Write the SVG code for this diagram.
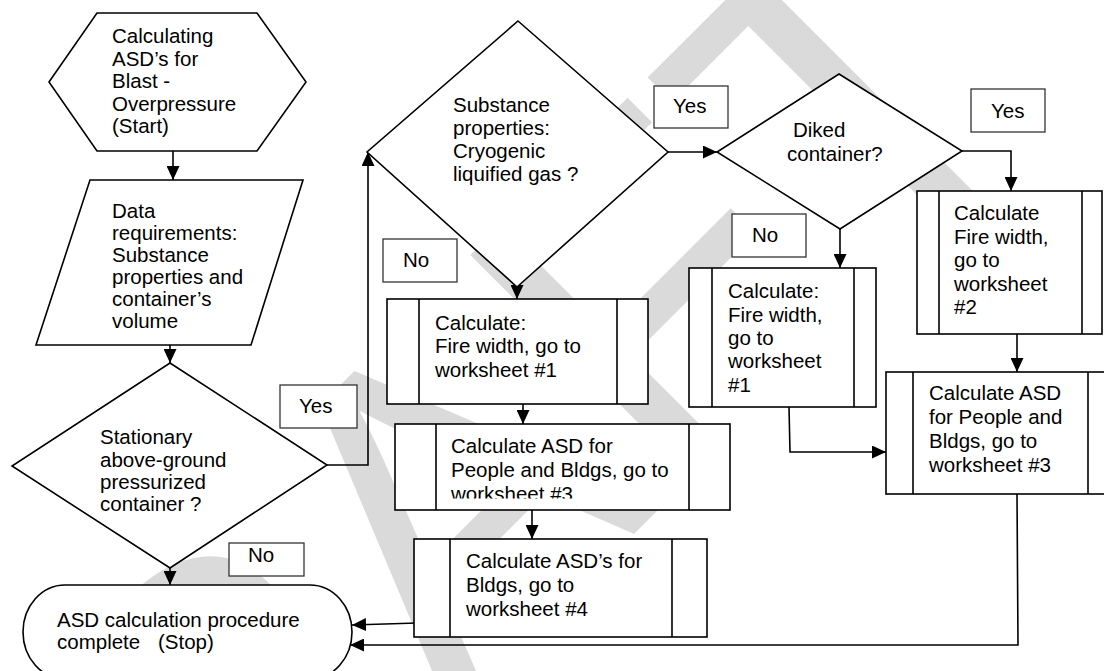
<svg xmlns="http://www.w3.org/2000/svg" width="1104" height="671" viewBox="0 0 1104 671">
<style>
.shape{fill:#fff;stroke:#000;stroke-width:1.6}
.lbl{fill:#fff;stroke:#333;stroke-width:1.3}
.conn{fill:none;stroke:#000;stroke-width:1.6}
text{font-family:"Liberation Sans",Arial,sans-serif;font-size:20.5px;fill:#000}
.wm{font-family:"Liberation Sans",Arial,sans-serif;font-size:455px;fill:#dadada}
</style>
<defs>
<marker id="ah" markerUnits="userSpaceOnUse" markerWidth="14" markerHeight="13" refX="14" refY="6.5" orient="auto">
<path d="M0,0 L14,6.5 L0,13 z" fill="#000"/>
</marker>
<clipPath id="clipM2"><rect x="436" y="424" width="253" height="74.5"/></clipPath>
</defs>
<rect width="1104" height="671" fill="#fff"/>
<text class="wm" transform="translate(-14,1182) rotate(-45)">DRAFT</text>

<g id="connectors">
<path class="conn" d="M173,151 V180" marker-end="url(#ah)"/>
<path class="conn" d="M170,345 V363" marker-end="url(#ah)"/>
<path class="conn" d="M327,465 H368 V152" marker-end="url(#ah)"/>
<path class="conn" d="M170,568 V585" marker-end="url(#ah)"/>
<path class="conn" d="M517,287 V299" marker-end="url(#ah)"/>
<path class="conn" d="M668,152 H717" marker-end="url(#ah)"/>
<path class="conn" d="M962,151 H1011 V191" marker-end="url(#ah)"/>
<path class="conn" d="M840,229 V268" marker-end="url(#ah)"/>
<path class="conn" d="M523,404 V424" marker-end="url(#ah)"/>
<path class="conn" d="M532,510 V539" marker-end="url(#ah)"/>
<path class="conn" d="M417,623 L352,625" marker-end="url(#ah)"/>
<path class="conn" d="M789,407 L790,452 H886" marker-end="url(#ah)"/>
<path class="conn" d="M1017,334 V372" marker-end="url(#ah)"/>
<path class="conn" d="M1017,494 L1018,645 H350" marker-end="url(#ah)"/>
</g>

<g id="start">
<polygon class="shape" points="49,82 97,13 257,13 306,82 257,151 97,151"/>
<text x="112" y="43">Calculating</text>
<text x="112" y="65.5">ASD’s for</text>
<text x="112" y="88">Blast -</text>
<text x="112" y="110.5">Overpressure</text>
<text x="112" y="133">(Start)</text>
</g>

<g id="data">
<polygon class="shape" points="90,180 303,180 251,345 36,345"/>
<text x="112" y="218">Data</text>
<text x="112" y="240">requirements:</text>
<text x="112" y="262">Substance</text>
<text x="112" y="284">properties and</text>
<text x="112" y="306">container’s</text>
<text x="112" y="328">volume</text>
</g>

<g id="stationary">
<polygon class="shape" points="170,363 327,465 170,568 12,466"/>
<text x="100" y="444">Stationary</text>
<text x="100" y="466.5">above-ground</text>
<text x="100" y="489">pressurized</text>
<text x="100" y="511">container ?</text>
</g>

<g id="stop">
<rect class="shape" x="23" y="585" width="329" height="94" rx="42" ry="47"/>
<text x="57" y="627">ASD calculation procedure</text>
<text x="57" y="649">complete<tspan x="158">(Stop)</tspan></text>
</g>

<g id="cryogenic">
<polygon class="shape" points="518,21 668,152 517,287 367,152"/>
<text x="453" y="112">Substance</text>
<text x="453" y="135">properties:</text>
<text x="453" y="158">Cryogenic</text>
<text x="453" y="181">liquified gas ?</text>
</g>

<g id="diked">
<polygon class="shape" points="839,74 962,151 840,229 717,152"/>
<text x="793" y="137">Diked</text>
<text x="787" y="161">container?</text>
</g>

<g id="fire1-mid">
<rect class="shape" x="387" y="299" width="261" height="105"/>
<line class="conn" x1="419" y1="299" x2="419" y2="404"/>
<line class="conn" x1="617" y1="299" x2="617" y2="404"/>
<text x="435" y="330">Calculate:</text>
<text x="435" y="353">Fire width, go to</text>
<text x="435" y="377">worksheet #1</text>
</g>

<g id="asd3-mid">
<rect class="shape" x="395" y="424" width="335" height="86"/>
<line class="conn" x1="436" y1="424" x2="436" y2="510"/>
<line class="conn" x1="689" y1="424" x2="689" y2="510"/>
<g clip-path="url(#clipM2)">
<text x="451" y="453">Calculate ASD for</text>
<text x="451" y="477">People and Bldgs, go to</text>
<text x="451" y="500.5">worksheet #3</text>
</g>
</g>

<g id="asd4-mid">
<rect class="shape" x="414" y="539" width="293" height="98"/>
<line class="conn" x1="450" y1="539" x2="450" y2="637"/>
<line class="conn" x1="672" y1="539" x2="672" y2="637"/>
<text x="466" y="568">Calculate ASD’s for</text>
<text x="466" y="592">Bldgs, go to</text>
<text x="466" y="616">worksheet #4</text>
</g>

<g id="fire1-right">
<rect class="shape" x="689" y="268" width="187" height="139"/>
<line class="conn" x1="712" y1="268" x2="712" y2="407"/>
<line class="conn" x1="854" y1="268" x2="854" y2="407"/>
<text x="728" y="298">Calculate:</text>
<text x="728" y="322">Fire width,</text>
<text x="728" y="345">go to</text>
<text x="728" y="368">worksheet</text>
<text x="728" y="392">#1</text>
</g>

<g id="fire2">
<rect class="shape" x="917" y="191" width="185" height="143"/>
<line class="conn" x1="939" y1="191" x2="939" y2="334"/>
<line class="conn" x1="1082" y1="191" x2="1082" y2="334"/>
<text x="954" y="220">Calculate</text>
<text x="954" y="243.5">Fire width,</text>
<text x="954" y="267">go to</text>
<text x="954" y="290.5">worksheet</text>
<text x="954" y="314">#2</text>
</g>

<g id="asd3-right">
<rect class="shape" x="886" y="372" width="220" height="122"/>
<line class="conn" x1="913" y1="372" x2="913" y2="494"/>
<line class="conn" x1="1088" y1="372" x2="1088" y2="494"/>
<text x="929" y="400">Calculate ASD</text>
<text x="929" y="424">for People and</text>
<text x="929" y="448">Bldgs, go to</text>
<text x="929" y="472">worksheet #3</text>
</g>

<g id="labels">
<rect class="lbl" x="280" y="385" width="77" height="43"/><text x="299" y="413">Yes</text>
<rect class="lbl" x="229" y="543" width="75" height="33"/><text x="248" y="562">No</text>
<rect class="lbl" x="383" y="239" width="74" height="43"/><text x="403" y="267">No</text>
<rect class="lbl" x="654" y="86" width="74" height="42"/><text x="673" y="113">Yes</text>
<rect class="lbl" x="971" y="89" width="74" height="43"/><text x="991" y="118">Yes</text>
<rect class="lbl" x="732" y="214" width="74" height="43"/><text x="752" y="242">No</text>
</g>
</svg>
